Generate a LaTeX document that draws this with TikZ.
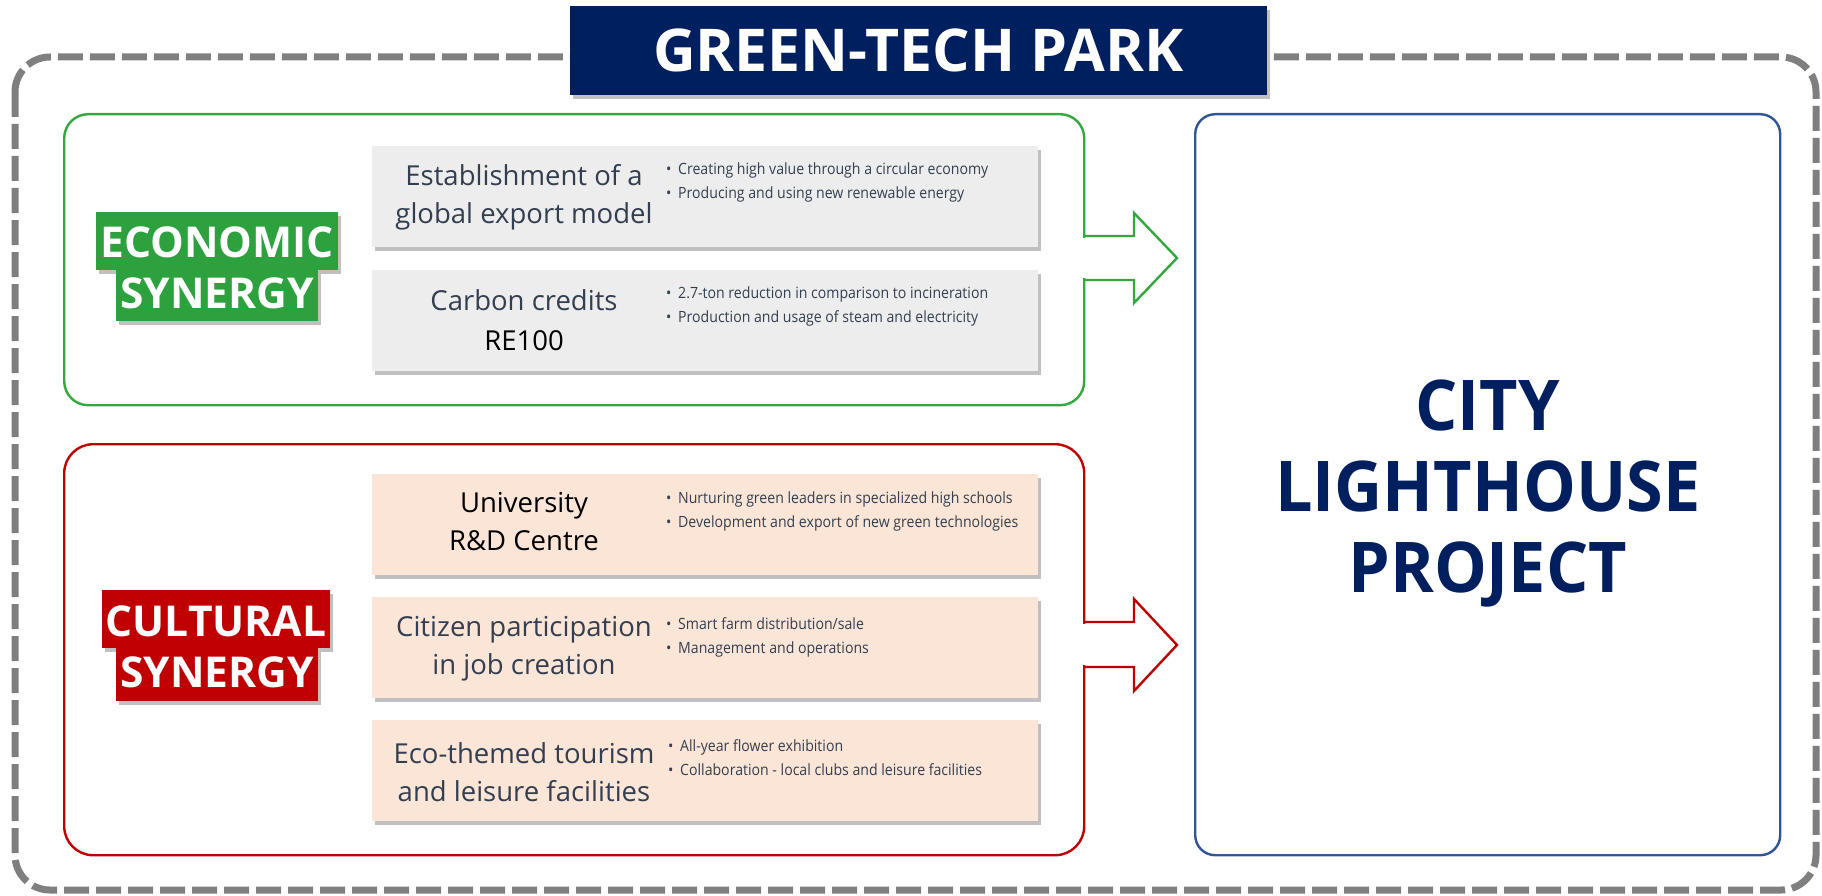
\documentclass[tikz,border=0pt]{standalone}
\usepackage{fontspec}
\usetikzlibrary{shadows}
\newfontfamily\bodyfont{Open Sans}
\newfontfamily\smallfont[FakeStretch=0.91]{Open Sans}
\newfontfamily\labelfont{Open Sans}
\newfontfamily\cityfont[FakeStretch=0.95]{Open Sans}
\newfontfamily\titlefont{Open Sans}
\definecolor{navy}{RGB}{0,31,94}
\definecolor{framegray}{RGB}{127,127,127}
\definecolor{ecogreen}{RGB}{44,161,62}
\definecolor{ecoline}{RGB}{52,168,62}
\definecolor{culred}{RGB}{192,0,0}
\definecolor{cityblue}{RGB}{47,85,151}
\definecolor{itemgray}{RGB}{237,237,237}
\definecolor{itempeach}{RGB}{251,229,214}
\definecolor{slate}{RGB}{51,63,80}
\newcommand{\bulitem}[1]{\makebox[12pt][l]{\textbullet}#1}
\begin{document}
\begin{tikzpicture}[x=1pt,y=-1pt,
  frame/.style={draw=framegray,line width=7pt,dash pattern=on 25pt off 7pt,rounded corners=35pt},
  groupbox/.style={draw=#1,line width=2.4pt,fill=white,minimum width=1020pt,anchor=north west,inner sep=0pt},
  arrowline/.style={draw=#1,line width=2.4pt,line join=miter},
  itembox/.style={fill=#1,draw=none,minimum width=666pt,minimum height=101pt,anchor=north west,inner sep=0pt,
    drop shadow={shadow xshift=3pt,shadow yshift=-4pt,opacity=0.35,fill=black!70}},
  maintext/.style={align=center,text=slate,font=\bodyfont\fontsize{27.5}{38}\selectfont,inner sep=0pt},
  bullettext/.style={anchor=base west,text=slate,font=\smallfont\fontsize{15.5}{18}\selectfont,inner sep=0pt},
  synlabel/.style={fill=#1,text=white,font=\labelfont\bfseries\fontsize{42.5}{48}\selectfont,inner xsep=4pt,inner ysep=0pt,
    drop shadow={shadow xshift=3pt,shadow yshift=-4pt,opacity=0.35,fill=black!70}},
]
\useasboundingbox (0,0) rectangle (1822,896);
% outer dashed frame
\draw[frame] (15,57) rectangle (1816,890);
% title
\node[fill=navy,minimum width=697pt,minimum height=89pt,inner sep=0pt,text=white,
  font=\titlefont\bfseries\fontsize{59}{66}\selectfont,
  drop shadow={shadow xshift=3pt,shadow yshift=-4pt,opacity=0.35,fill=black!70}] (title) at (918.5,50.5) {GREEN-TECH PARK};
% economic group
\node[groupbox=ecoline,rounded corners=24pt,minimum height=291pt] (eco) at (63,113) {};
\fill[white] (1080,237.6) rectangle (1086,278.4);
\draw[arrowline=ecoline] (1083,236) -- (1134,236) -- (1134,213) -- (1177,258) -- (1134,303) -- (1134,280) -- (1083,280);
% cultural group
\node[groupbox=culred,rounded corners=29pt,minimum height=411pt] (cul) at (63,443) {};
\fill[white] (1080,623.6) rectangle (1086,665.4);
\draw[arrowline=culred] (1083,622) -- (1134,622) -- (1134,599) -- (1177,645) -- (1134,691) -- (1134,667) -- (1083,667);
% city box
\node[draw=cityblue,line width=2.4pt,rounded corners=20pt,fill=white,minimum width=585pt,minimum height=741pt,anchor=north west,inner sep=0pt] (city) at (1194,113) {};
\node[align=center,text=navy,font=\cityfont\bfseries\fontsize{70}{81}\selectfont,yshift=-9pt] (citytext) at (city.center) {CITY\\LIGHTHOUSE\\PROJECT};
% labels
\node[synlabel=ecogreen,text height=45pt,text depth=13pt] (ecoA) at (217,241) {ECONOMIC};
\node[synlabel=ecogreen,text height=38pt,text depth=13pt] (ecoB) at (217,295.5) {SYNERGY};
\node[synlabel=culred,text height=46pt,text depth=12pt] (culA) at (216,619) {CULTURAL};
\node[synlabel=culred,text height=39pt,text depth=14pt] (culB) at (217,674.5) {SYNERGY};
% economic items
\node[itembox=itemgray] (g1) at (372,146) {};
\node[maintext] (g1t) at (524,197) {Establishment of a\\global export model};
\node[bullettext] (g1a) at (666,175) {\bulitem{Creating high value through a circular economy}};
\node[bullettext] (g1b) at (666,199) {\bulitem{Producing and using new renewable energy}};
\node[itembox=itemgray] (g2) at (372,270) {};
\node[maintext,font=\bodyfont\fontsize{27.5}{40}\selectfont] (g2t) at (524,320) {Carbon credits\\\textcolor{black}{RE100}};
\node[bullettext] (g2a) at (666,298) {\bulitem{2.7-ton reduction in comparison to incineration}};
\node[bullettext] (g2b) at (666,322) {\bulitem{Production and usage of steam and electricity}};
% cultural items
\node[itembox=itempeach] (p1) at (372,474) {};
\node[maintext,text=black] (p1t) at (524,522) {University\\R\&D Centre};
\node[bullettext] (p1a) at (666,503) {\bulitem{Nurturing green leaders in specialized high schools}};
\node[bullettext] (p1b) at (666,527) {\bulitem{Development and export of new green technologies}};
\node[itembox=itempeach] (p2) at (372,597) {};
\node[maintext] (p2t) at (524,649) {Citizen participation\\in job creation};
\node[bullettext] (p2a) at (666,629) {\bulitem{Smart farm distribution/sale}};
\node[bullettext] (p2b) at (666,653) {\bulitem{Management and operations}};
\node[itembox=itempeach] (p3) at (372,720) {};
\node[maintext] (p3t) at (524,772) {Eco-themed tourism\\and leisure facilities};
\node[bullettext] (p3a) at (668,751) {\bulitem{All-year flower exhibition}};
\node[bullettext] (p3b) at (668,775) {\bulitem{Collaboration - local clubs and leisure facilities}};
\end{tikzpicture}
\end{document}
